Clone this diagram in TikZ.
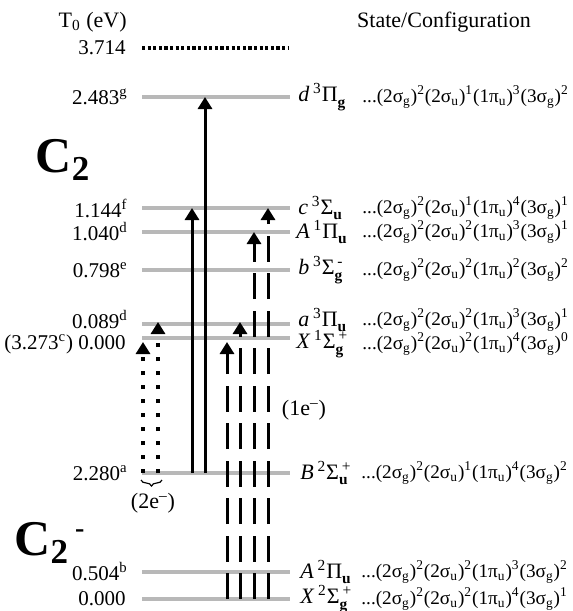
\documentclass[tikz,border=0pt]{standalone}
\usepackage{fontspec}
\setmainfont{Liberation Serif}
\usepackage{amsmath}
\usepackage{tikz}
\usetikzlibrary{positioning, arrows.meta, decorations.pathreplacing}
\definecolor{lvgray}{HTML}{B8B8B8}

% orbital (n lambda_sym)^occ
\newcommand{\orb}[3]{(#1$_{\text{#2}}$)$^{\text{#3}}$}
\newcommand{\conf}[4]{...\orb{2σ}{g}{#1}\orb{2σ}{u}{#2}\orb{1π}{u}{#3}\orb{3σ}{g}{#4}}
% term symbol
\newcommand{\trm}[5]{\textit{#1}\,$^{\text{#2}}$#3$_{\textbf{#4}}^{\,\text{#5}}$}

\begin{document}
\begin{tikzpicture}[
  x=0.5pt, y=-0.5pt,
  level/.style={draw=lvgray, line width=2pt},
  topline/.style={draw=black, line width=1.6pt, dash pattern=on 1.6pt off 1.2pt},
  val/.style={font=\fontsize{10.5}{12}\selectfont, inner sep=0pt},
  term/.style={font=\fontsize{11}{12}\selectfont, inner sep=0pt, anchor=west},
  conf/.style={font=\fontsize{9.6}{12}\selectfont, inner sep=0pt, anchor=west},
  big/.style={font=\fontsize{25}{25}\selectfont\bfseries, inner sep=0pt},
  arr/.style={line width=1.5pt, -{Triangle[width=7pt,length=6pt]}},
  dasharr/.style={arr, dash pattern=on 13pt off 5.75pt},
  dotarr/.style={arr, line width=1.8pt, dash pattern=on 1.8pt off 5.2pt},
]
\useasboundingbox (0,0) rectangle (573,611);

% Niveaux C2
\coordinate (lvt) at (142,48);
\coordinate (lvd) at (142,97);
\coordinate (lvc) at (142,208);
\coordinate (lvA) at (142,232);
\coordinate (lvb) at (142,270);
\coordinate (lva) at (142,324);
\coordinate (lvX) at (142,338);
% Niveaux C2-
\coordinate (lvBm) at (142,473);
\coordinate (lvAm) at (142,572);
\coordinate (lvXm) at (142,599);
% lignes de texte pour a et X (ecartees)
\coordinate (txa) at (142,320);
\coordinate (txX) at (142,344);

\draw[topline] (lvt) -- ++(146,0);
\draw[level] (lvd) -- ++(148,0);
\draw[level] (lvc) -- ++(148,0);
\draw[level] (lvA) -- ++(148,0);
\draw[level] (lvb) -- ++(148,0);
\draw[level] (lva) -- ++(148,0);
\draw[level] (lvX) -- ++(148,0);
\draw[level] (lvBm) -- ++(148,0);
\draw[level] (lvAm) -- ++(148,0);
\draw[level] (lvXm) -- ++(148,0);

% En-tetes
\node[val, font=\fontsize{11}{12}\selectfont, anchor=east] (head) at (127,22) {T\textsubscript{0} (eV)};
\node[val, font=\fontsize{11}{12}\selectfont] (headr) at (444,22) {State/Configuration};
\node[big] (mol) at (63,160) {C\textsubscript{2}};
\node[big] (ion) at (50,543) {C\textsubscript{2}\textsuperscript{\,\fontsize{14}{14}\selectfont -}};

% Energies
\node[val, left=8pt of lvt] (vt) {3.714};
\node[val, left=7pt of lvd] (vd) {2.483\textsuperscript{g}};
\node[val, left=7pt of lvc] (vc) {1.144\textsuperscript{f}};
\node[val, left=7pt of lvA] (vA) {1.040\textsuperscript{d}};
\node[val, left=7pt of lvb] (vb) {0.798\textsuperscript{e}};
\node[val, left=7pt of txa] (va) {0.089\textsuperscript{d}};
\node[val, left=8pt of txX] (vX) {(3.273\textsuperscript{c}) 0.000};
\node[val, left=7pt of lvBm] (vBm) {2.280\textsuperscript{a}};
\node[val, left=7pt of lvAm] (vAm) {0.504\textsuperscript{b}};
\node[val, left=8pt of lvXm] (vXm) {0.000};

% Etats
\node[term] (sd) at (298,0 |- lvd) {\trm{d}{3}{Π}{g}{}};
\node[term] (sc) at (298,0 |- lvc) {\trm{c}{3}{Σ}{u}{}};
\node[term] (sA) at (296,0 |- lvA) {\trm{A}{1}{Π}{u}{}};
\node[term] (sb) at (298,0 |- lvb) {\trm{b}{3}{Σ}{g}{-}};
\node[term] (sa) at (298,0 |- txa) {\trm{a}{3}{Π}{u}{}};
\node[term] (sX) at (296,0 |- txX) {\trm{X}{1}{Σ}{g}{+}};
\node[term] (sBm) at (300,0 |- lvBm) {\trm{B}{2}{Σ}{u}{+}};
\node[term] (sAm) at (300,0 |- lvAm) {\trm{A}{2}{Π}{u}{}};
\node[term] (sXm) at (300,0 |- lvXm) {\trm{X}{2}{Σ}{g}{+}};

% Configurations
\node[conf] (kd) at (362,0 |- lvd) {\conf{2}{1}{3}{2}};
\node[conf] (kc) at (362,0 |- lvc) {\conf{2}{1}{4}{1}};
\node[conf] (kA) at (362,0 |- lvA) {\conf{2}{2}{3}{1}};
\node[conf] (kb) at (362,0 |- lvb) {\conf{2}{2}{2}{2}};
\node[conf] (ka) at (362,0 |- txa) {\conf{2}{2}{3}{1}};
\node[conf] (kX) at (362,0 |- txX) {\conf{2}{2}{4}{0}};
\node[conf] (kBm) at (361,0 |- lvBm) {\conf{2}{1}{4}{2}};
\node[conf] (kAm) at (361,0 |- lvAm) {\conf{2}{2}{3}{2}};
\node[conf] (kXm) at (361,0 |- lvXm) {\conf{2}{2}{4}{1}};

% Detachement 2e-
\draw[dotarr] (143,0 |- lvBm) -- ([yshift=-2pt]143,0 |- lvX);
\draw[dotarr] (158,0 |- lvBm) -- ([yshift=1pt]158,0 |- lva);
\coordinate (brl) at (141,480);
\coordinate (brr) at (162,480);
\draw[decorate, decoration={brace, mirror, amplitude=3pt}, line width=0.6pt] (brl) -- (brr);
\node[val, font=\fontsize{11}{12}\selectfont] (two) at (153,503) {(2e\textsuperscript{–})};

% Depuis B 2Sigma_u+
\draw[arr] (192,0 |- lvBm) -- (192,0 |- lvc);
\draw[arr] (205,0 |- lvBm) -- (205,0 |- lvd);

% Detachement 1e- depuis X
\draw[dasharr] (227,0 |- lvXm) -- ([yshift=-2pt]227,0 |- lvX);
\draw[dasharr] (240,0 |- lvXm) -- ([yshift=1pt]240,0 |- lva);
\draw[dasharr] (254,0 |- lvXm) -- (254,0 |- lvA);
\draw[dasharr] (268,0 |- lvXm) -- (268,0 |- lvc);
\node[val, font=\fontsize{11}{12}\selectfont] (one) at (304,410) {(1e\textsuperscript{–})};

\end{tikzpicture}
\end{document}
